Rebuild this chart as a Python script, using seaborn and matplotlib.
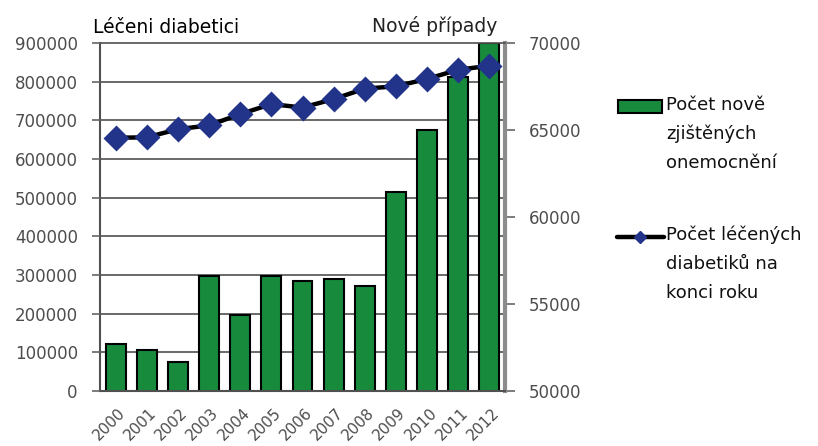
import numpy as np
import pandas as pd
import matplotlib
matplotlib.use("Agg")
import matplotlib.pyplot as plt
import seaborn as sns
from matplotlib.ticker import FixedLocator
from matplotlib.patches import Rectangle
from matplotlib.lines import Line2D
from matplotlib.transforms import ScaledTranslation

years = [str(y) for y in range(2000, 2013)]
new_cases = [52700, 52360, 51690, 56630, 54360, 56590, 56340, 56440, 56010,
             61430, 64990, 68040, 70000]
treated = [655000, 656000, 677000, 687000, 716000, 742000, 733000, 755000,
           782000, 788000, 807000, 831000, 841000]
left_ticks = list(range(0, 900001, 100000))
right_ticks = list(range(50000, 70001, 5000))
left_title = "Léčeni diabetici"
right_title = "Nové případy"
bar_label = "Počet nově\nzjištěných\nonemocnění"
line_label = "Počet léčených\ndiabetiků na\nkonci roku"

df = pd.DataFrame({"year": years, "new": new_cases, "treated": treated})

sns.set_style("white")
plt.rcParams["font.family"] = ["DejaVu Sans"]

W, H = 818, 446
fig = plt.figure(figsize=(W / 100, H / 100), dpi=100)
fig.patch.set_facecolor("white")


def fx(px):
    return px / W


def fy(py):
    return 1 - py / H


ax = fig.add_axes([fx(100), fy(391), (505 - 100) / W, (391 - 43) / H])
ax2 = ax.twinx()

green = "#178a3c"
navy = "#22338a"
tick_col = "#4d4d4d"
grid_col = "#505050"

# Bars on the right scale (new cases)
sns.barplot(data=df, x="year", y="new", ax=ax, color=green, width=0.64,
            edgecolor="black", linewidth=1.5, saturation=1, zorder=2)
lo, hi = right_ticks[0], right_ticks[-1]
ax.set_ylim(lo, hi)
ax.set_xlim(-0.5, len(years) - 0.5)
ax.yaxis.tick_right()
ax.set_yticks(right_ticks)
ax.set_yticklabels([str(v) for v in right_ticks])
# gridlines at left-scale tick positions
grid_pos = [lo + v * (hi - lo) / left_ticks[-1] for v in left_ticks]
ax.yaxis.set_minor_locator(FixedLocator(grid_pos))
ax.grid(False)
ax.grid(which="minor", axis="y", color=grid_col, lw=1.2)
ax.set_axisbelow(True)
ax.tick_params(axis="y", which="minor", length=0)
ax.tick_params(axis="y", which="major", direction="out", length=7, width=1.2,
               color="#666666", labelsize=12, labelcolor=tick_col, pad=10,
               right=True, left=False)
ax.tick_params(axis="x", length=0, pad=10, labelsize=11, labelcolor=tick_col)
shift = ScaledTranslation(2 / 100, 0, fig.dpi_scale_trans)
for lab in ax.get_xticklabels():
    lab.set_rotation(45)
    lab.set_ha("right")
    lab.set_va("top")
    lab.set_rotation_mode("anchor")
    lab.set_transform(lab.get_transform() + shift)
ax.set_xlabel("")
ax.set_ylabel("")

for s in ["left", "bottom", "top"]:
    ax.spines[s].set_visible(True)
    ax.spines[s].set_color(grid_col)
    ax.spines[s].set_linewidth(1.5)
ax.spines["top"].set_linewidth(1.2)
ax.spines["right"].set_visible(True)
ax.spines["right"].set_color("#8c8c8c")
ax.spines["right"].set_linewidth(3)

# Line on the left scale (treated diabetics)
sns.pointplot(data=df, x="year", y="treated", ax=ax2, color="black",
              markers="D", linestyles="-", errorbar=None)
for ln in ax2.lines:
    ln.set_linewidth(3.2)
    ln.set_markersize(11)
    ln.set_markerfacecolor(navy)
    ln.set_markeredgecolor(navy)
    ln.set_zorder(5)
ax2.set_ylim(left_ticks[0], left_ticks[-1])
ax2.set_xlim(-0.5, len(years) - 0.5)
ax2.yaxis.tick_left()
ax2.set_yticks(left_ticks)
ax2.set_yticklabels([str(v) for v in left_ticks])
ax2.tick_params(axis="y", direction="out", length=6, width=1.2,
                color="#666666", labelsize=12, labelcolor=tick_col, pad=10,
                left=True, right=False, labelleft=True, labelright=False)
ax2.set_xlabel("")
ax2.set_ylabel("")
for s in ax2.spines.values():
    s.set_visible(False)
ax2.grid(False)

# Axis titles
fig.text(fx(93), fy(33), left_title, fontsize=13.5, color="black",
         va="baseline", ha="left")
fig.text(fx(497), fy(32), right_title, fontsize=13.5, color="#222222",
         va="baseline", ha="right")

# Legend (drawn manually)
leg_font = ["DejaVu Sans"]
fig.add_artist(Rectangle((fx(618), fy(113)), fx(662) - fx(618),
                         fy(100) - fy(113), transform=fig.transFigure,
                         facecolor=green, edgecolor="black", lw=1.5))
fig.text(fx(666), fy(96), bar_label, fontsize=13, family=leg_font,
         va="top", ha="left", linespacing=1.75, color="#111111")
fig.add_artist(Line2D([fx(617), fx(664)], [fy(237), fy(237)],
                      transform=fig.transFigure, color="black", lw=3.2))
fig.add_artist(Line2D([fx(640)], [fy(237)], transform=fig.transFigure,
                      marker="D", markersize=6, color=navy, lw=0))
fig.text(fx(666), fy(226), line_label, fontsize=13, family=leg_font,
         va="top", ha="left", linespacing=1.75, color="#111111")

fig.savefig("out.png", dpi=100)
